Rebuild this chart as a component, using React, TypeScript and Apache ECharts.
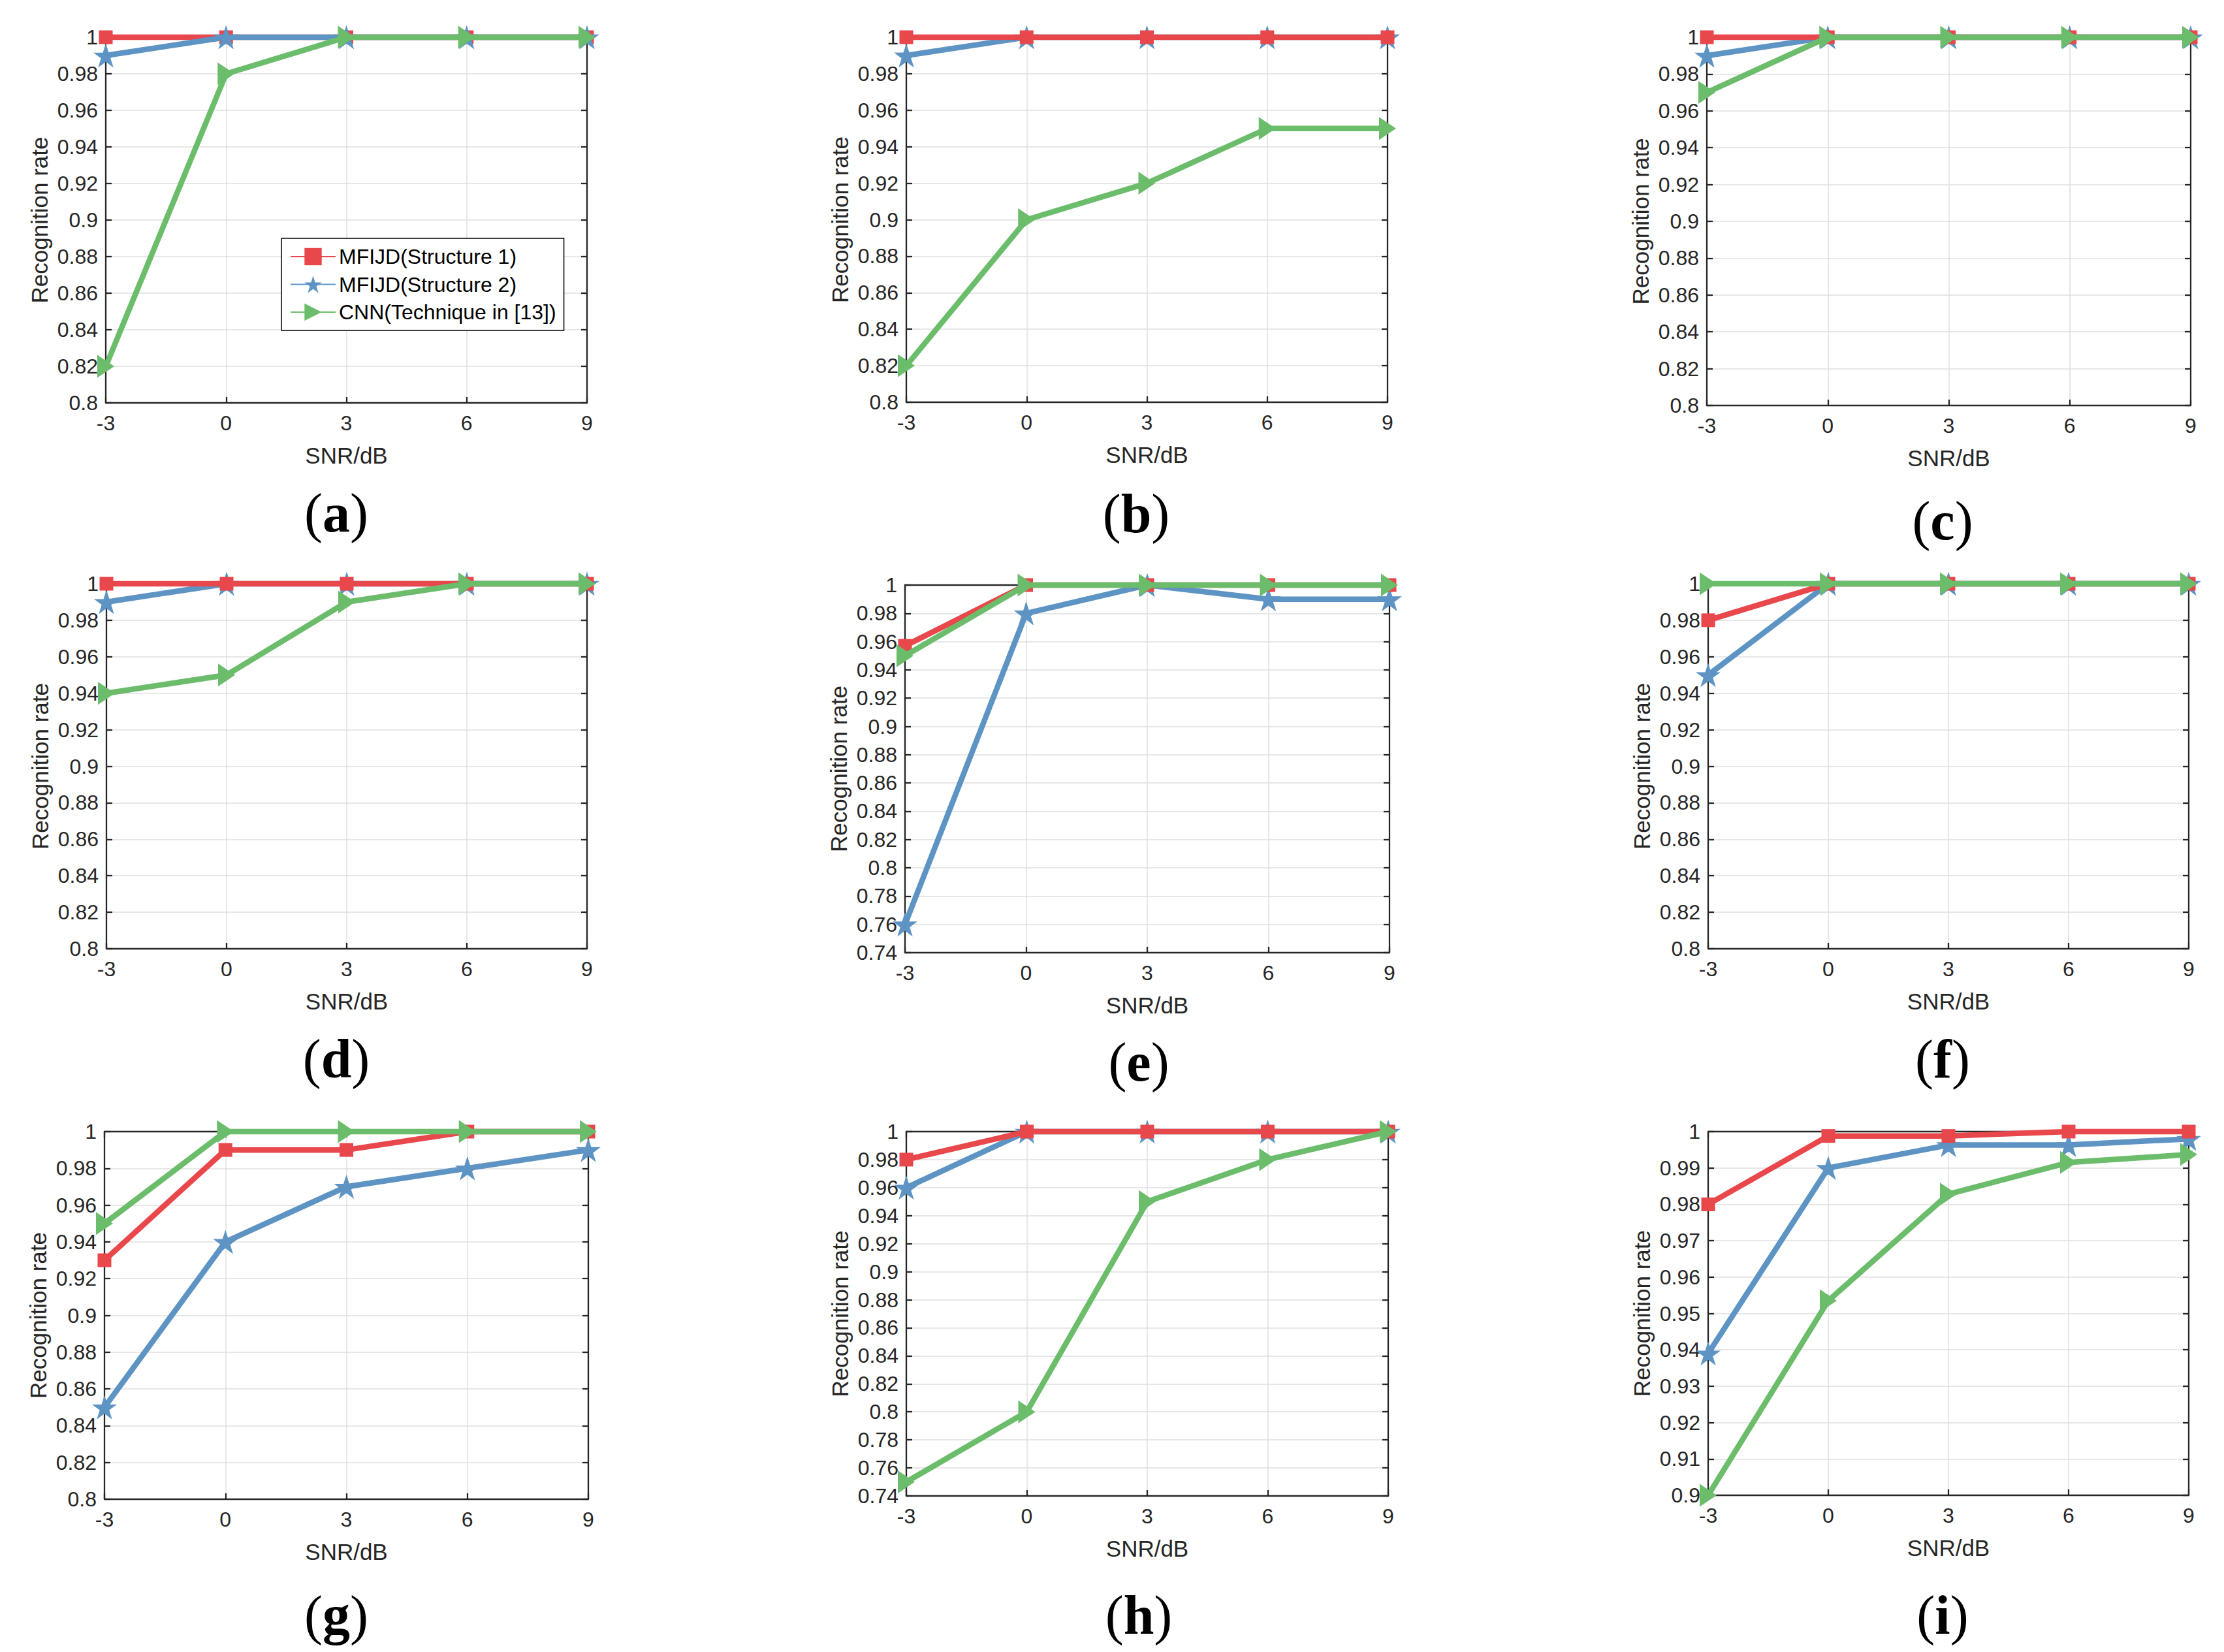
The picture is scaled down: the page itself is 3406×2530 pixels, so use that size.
import { useEffect, useRef } from "react";
import * as echarts from "echarts";

// SNR values on the x axis (dB)
const snr = [-3, 0, 3, 6, 9];
const panelTags = ["a", "b", "c", "d", "e", "f", "g", "h", "i"];
const seriesNames = [
  "MFIJD(Structure 1)",
  "MFIJD(Structure 2)",
  "CNN(Technique in [13])",
];

// recognition rate per panel, one row per sub-figure (a)..(i)
const structure1 = [
  [1, 1, 1, 1, 1],
  [1, 1, 1, 1, 1],
  [1, 1, 1, 1, 1],
  [1, 1, 1, 1, 1],
  [0.957, 1, 1, 1, 1],
  [0.98, 1, 1, 1, 1],
  [0.93, 0.99, 0.99, 1, 1],
  [0.98, 1, 1, 1, 1],
  [0.98, 0.9988, 0.9988, 1, 1],
];
const structure2 = [
  [0.99, 1, 1, 1, 1],
  [0.99, 1, 1, 1, 1],
  [0.99, 1, 1, 1, 1],
  [0.99, 1, 1, 1, 1],
  [0.76, 0.98, 1, 0.99, 0.99],
  [0.95, 1, 1, 1, 1],
  [0.85, 0.94, 0.97, 0.98, 0.99],
  [0.96, 1, 1, 1, 1],
  [0.939, 0.99, 0.9963, 0.9963, 0.998],
];
const cnn = [
  [0.82, 0.98, 1, 1, 1],
  [0.82, 0.9, 0.92, 0.95, 0.95],
  [0.97, 1, 1, 1, 1],
  [0.94, 0.95, 0.99, 1, 1],
  [0.95, 1, 1, 1, 1],
  [1, 1, 1, 1, 1],
  [0.95, 1, 1, 1, 1],
  [0.75, 0.8, 0.95, 0.98, 1],
  [0.9, 0.9535, 0.9828, 0.9915, 0.9937],
];

// y axis range / tick step per panel
const yMin = [0.8, 0.8, 0.8, 0.8, 0.74, 0.8, 0.8, 0.74, 0.9];
const yStep = [0.02, 0.02, 0.02, 0.02, 0.02, 0.02, 0.02, 0.02, 0.01];

// plot boxes in page pixels
const boxes = [
  { l: 162, t: 57, w: 737, h: 560 },
  { l: 1388, t: 57, w: 737, h: 559 },
  { l: 2614, t: 57, w: 741, h: 564 },
  { l: 163, t: 894, w: 736, h: 559 },
  { l: 1386, t: 896, w: 742, h: 563 },
  { l: 2616, t: 894, w: 736, h: 559 },
  { l: 160, t: 1733, w: 741, h: 563 },
  { l: 1388, t: 1733, w: 738, h: 558 },
  { l: 2616, t: 1733, w: 736, h: 557 },
];
const captionPos = [
  [515, 785],
  [1740, 786],
  [2975, 797],
  [515, 1621],
  [1744, 1626],
  [2975, 1622],
  [515, 2473],
  [1744, 2473],
  [2975, 2473],
];

const RED = "#e8474b";
const BLUE = "#5d94c4";
const GREEN = "#6bbd6b";
const AXIS = "#262626";
const FONT = "Liberation Sans";

const STAR =
  "path://M100,0L122.45,69.1L195.1,69.1L136.33,111.8L158.8,180.9L100,138.2L41.2,180.9L63.67,111.8L4.9,69.1L77.55,69.1Z";
const TRI = "path://M0,0L20,14L0,28Z";

const fmt = (v: number) => String(Number(v.toFixed(4)));

export default function App() {
  const ref = useRef<HTMLDivElement>(null);

  useEffect(() => {
    if (!ref.current) return;
    const chart = echarts.init(ref.current, undefined, { renderer: "svg" });

    const grid: any[] = [];
    const xAxis: any[] = [];
    const yAxis: any[] = [];
    const series: any[] = [];
    const graphic: any[] = [];

    boxes.forEach((b, k) => {
      grid.push({ left: b.l, top: b.t, width: b.w, height: b.h });

      const tickInside = {
        show: true,
        inside: true,
        length: 9,
        lineStyle: { color: AXIS, width: 2.3 },
      };
      const line = {
        show: true,
        onZero: false,
        lineStyle: { color: AXIS, width: 2.3 },
      };
      const gridLine = {
        show: true,
        lineStyle: { color: "#dfdfdf", width: 1.5 },
      };

      xAxis.push({
        type: "value",
        gridIndex: k,
        min: -3,
        max: 9,
        interval: 3,
        position: "bottom",
        axisLine: line,
        axisTick: tickInside,
        axisLabel: {
          margin: 15,
          fontSize: 32,
          color: AXIS,
          fontFamily: FONT,
        },
        splitLine: gridLine,
        name: "SNR/dB",
        nameLocation: "middle",
        nameGap: 63,
        nameTextStyle: { fontSize: 35, color: AXIS, fontFamily: FONT },
      });
      xAxis.push({
        type: "value",
        gridIndex: k,
        min: -3,
        max: 9,
        interval: 3,
        position: "top",
        axisLine: line,
        axisTick: tickInside,
        axisLabel: { show: false },
        splitLine: { show: false },
      });

      yAxis.push({
        type: "value",
        gridIndex: k,
        min: yMin[k],
        max: 1,
        interval: yStep[k],
        position: "left",
        axisLine: line,
        axisTick: tickInside,
        axisLabel: {
          margin: 12,
          fontSize: 32,
          color: AXIS,
          fontFamily: FONT,
          formatter: fmt,
        },
        splitLine: gridLine,
        name: "Recognition rate",
        nameLocation: "middle",
        nameGap: 84,
        nameTextStyle: { fontSize: 35, color: AXIS, fontFamily: FONT },
      });
      yAxis.push({
        type: "value",
        gridIndex: k,
        min: yMin[k],
        max: 1,
        interval: yStep[k],
        position: "right",
        axisLine: line,
        axisTick: tickInside,
        axisLabel: { show: false },
        splitLine: { show: false },
      });

      const common = {
        type: "line",
        xAxisIndex: 2 * k,
        yAxisIndex: 2 * k,
        clip: false,
        emphasis: { disabled: true },
      };
      series.push({
        ...common,
        name: seriesNames[0],
        data: snr.map((x, i) => [x, structure1[k][i]]),
        symbol: "rect",
        symbolSize: 21,
        lineStyle: { color: RED, width: 8.5 },
        itemStyle: { color: RED },
        z: k === 0 ? 3 : 4,
      });
      series.push({
        ...common,
        name: seriesNames[1],
        data: snr.map((x, i) => [x, structure2[k][i]]),
        symbol: STAR,
        symbolSize: [38, 37],
        lineStyle: { color: BLUE, width: 8.5 },
        itemStyle: { color: BLUE },
        z: k === 0 ? 4 : 3,
      });
      series.push({
        ...common,
        name: seriesNames[2],
        data: snr.map((x, i) => [x, cnn[k][i]]),
        symbol: TRI,
        symbolSize: [26, 35],
        lineStyle: { color: GREEN, width: 8.5 },
        itemStyle: { color: GREEN },
        z: 5,
      });

      graphic.push({
        type: "text",
        x: captionPos[k][0],
        y: captionPos[k][1],
        style: {
          text: `{p|(}{l|${panelTags[k]}}{p|)}`,
          align: "center",
          verticalAlign: "middle",
          fill: "#000",
          rich: {
            p: { fontSize: 84, fontFamily: "Liberation Serif", fill: "#000" },
            l: {
              fontSize: 84,
              fontFamily: "Liberation Serif",
              fontWeight: "bold",
              fill: "#000",
            },
          },
        },
      });
    });

    chart.setOption({
      animation: false,
      backgroundColor: "#fff",
      grid,
      xAxis,
      yAxis,
      series,
      graphic,
      legend: {
        orient: "vertical",
        left: 431,
        top: 365,
        padding: [12, 12, 12, 13],
        itemWidth: 69,
        itemHeight: 33,
        itemGap: 10.5,
        borderColor: "#000",
        borderWidth: 1.5,
        backgroundColor: "#fff",
        selectedMode: false,
        z: 10,
        data: seriesNames,
        textStyle: { fontSize: 32, color: "#000", fontFamily: FONT },
      },
    });

    return () => {
      chart.dispose();
    };
  }, []);

  return (
    <div
      ref={ref}
      style={{ position: "absolute", left: 0, top: 0, width: 3406, height: 2530 }}
    />
  );
}
